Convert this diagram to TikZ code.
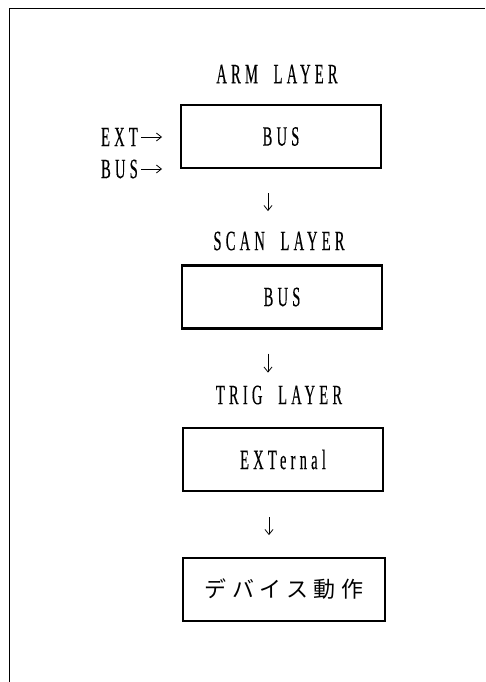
\documentclass[tikz,border=0pt]{standalone}
\usepackage{fontspec}
\setmainfont{Liberation Serif}[FakeStretch=0.52,FakeBold=0.3,LetterSpace=15,WordSpace=2]
\newfontfamily\jpfont[LetterSpace=25]{Noto Sans CJK JP}
\usetikzlibrary{arrows.meta,positioning}

\begin{document}
\begin{tikzpicture}[
    x={(1pt,0pt)}, y={(0pt,-1pt)},
    every node/.style={font=\fontsize{28}{32}\selectfont, inner sep=0pt},
    layerbox/.style={draw, line width=2.2pt, minimum width=200, minimum height=63},
    flowarrow/.style={line width=0.8pt, -{Straight Barb[length=5pt,width=8pt]}},
  ]
    \useasboundingbox (0,0) rectangle (485,682);

    % -------- sheet edge --------
    \draw[line width=1.5pt] (9.5,682) -- (9.5,8.5) -- (485,8.5);

    % -------- arm layer --------
    \node (armlabel) at (277,74) {ARM LAYER};
    \node[layerbox] (armbox) at (281,136.5) {BUS};
    \node[anchor=east] (extlabel) at (138,137) {EXT};
    \node[anchor=east] (buslabel) at (138,169) {BUS};
    \draw[flowarrow] ([xshift=3pt]extlabel.east) -- ++(21,0);
    \draw[flowarrow] ([xshift=3pt]buslabel.east) -- ++(21,0);

    % -------- scan layer --------
    \draw[flowarrow] ([xshift=-13pt,yshift=-24pt]armbox.south) -- ++(0,18);
    \node (scanlabel) at (279,241) {SCAN LAYER};
    \node[layerbox] (scanbox) at (282,297) {BUS};

    % -------- trig layer --------
    \draw[flowarrow] ([xshift=-14pt,yshift=-24pt]scanbox.south) -- ++(0,19);
    \node (triglabel) at (279,395) {TRIG LAYER};
    \node[layerbox] (trigbox) at (283,459.5) {EXTernal};

    % -------- device --------
    \draw[flowarrow] ([xshift=-14pt,yshift=-25pt]trigbox.south) -- ++(0,18);
    \node[layerbox, minimum width=202, font=\jpfont\fontsize{22}{26}\selectfont]
      (devbox) at (284,589.5) {デバイス動作};
  \end{tikzpicture}
\end{document}
